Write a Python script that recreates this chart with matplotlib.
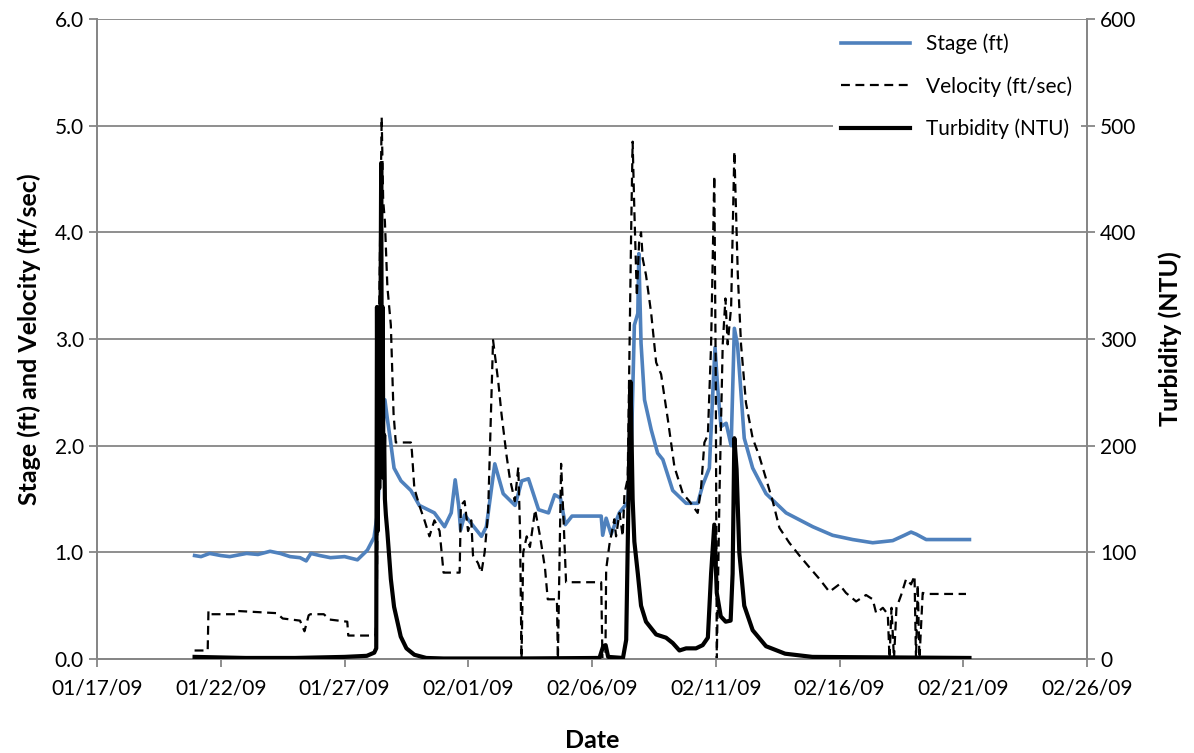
import datetime as dt
import numpy as np
import matplotlib.pyplot as plt
import matplotlib.dates as mdates
from matplotlib.lines import Line2D

plt.rcParams['font.family'] = ['Lato', 'DejaVu Sans']

START = dt.datetime(2009, 1, 17)

# stage (ft): days after 01/17/09, value
stage_day = [3.94, 4.2, 4.55, 5.0, 5.36, 6.04, 6.5, 6.99, 7.4, 7.80, 8.2, 8.45, 8.64, 9.0, 9.43,
             10.0, 10.52, 10.92, 11.19, 11.33, 11.46, 11.63, 11.73, 11.84, 12.0, 12.28, 12.68,
             13.02, 13.63, 14.04, 14.31, 14.47, 14.61, 14.69, 14.85, 15.53, 15.73, 16.07, 16.41,
             16.89, 17.16, 17.43, 17.84, 18.24, 18.49, 18.72, 18.92, 19.19, 19.49, 20.37, 20.43,
             20.57, 20.77, 21.1, 21.44, 21.58, 21.71, 21.85, 21.89, 21.98, 22.12, 22.39, 22.65,
             22.86, 23.26, 23.8, 24.27, 24.47, 24.74, 24.9, 24.97, 25.08, 25.21, 25.42, 25.62,
             25.75, 25.88, 26.15, 26.49, 27.03, 27.84, 28.92, 29.72, 30.53, 31.34, 32.15, 32.62,
             32.89, 33.1, 33.5, 35.25]
stage_ft = [0.97, 0.96, 0.99, 0.97, 0.96, 0.99, 0.98, 1.01, 0.99, 0.96, 0.95, 0.92, 0.99, 0.97, 0.95,
            0.96, 0.93, 1.02, 1.14, 1.37, 1.90, 2.43, 2.25, 2.07, 1.79, 1.67, 1.58,
            1.44, 1.37, 1.24, 1.37, 1.68, 1.44, 1.21, 1.35, 1.15, 1.24, 1.83, 1.55,
            1.44, 1.67, 1.69, 1.40, 1.37, 1.54, 1.51, 1.26, 1.34, 1.34, 1.34, 1.16,
            1.32, 1.17, 1.37, 1.47, 1.90, 3.13, 3.24, 3.80, 2.96, 2.43, 2.15, 1.93,
            1.87, 1.58, 1.46, 1.46, 1.63, 1.79, 2.60, 2.92, 2.53, 2.18, 2.21, 2.00,
            3.10, 2.94, 2.07, 1.79, 1.55, 1.37, 1.24, 1.16, 1.12, 1.09, 1.11, 1.16,
            1.19, 1.17, 1.12, 1.12]

# velocity (ft/sec)
vel_day = [3.94, 4.47, 4.50, 4.56, 5.65, 5.70, 6.45, 7.26, 7.50, 8.20, 8.38, 8.55, 8.62, 9.16, 9.40,
           10.11, 10.15, 11.25, 11.30, 11.40, 11.50, 11.56, 11.63, 11.73, 11.87, 11.98, 12.07,
           12.68, 12.72, 12.82, 13.02, 13.23, 13.43, 13.63, 13.84, 14.0, 14.65, 14.70, 14.85,
           14.99, 15.12, 15.19, 15.39, 15.53, 15.66, 15.80, 16.00, 16.21, 16.34, 16.55, 16.68,
           16.88, 17.02, 17.09, 17.15, 17.22, 17.36, 17.49, 17.70, 17.90, 18.10, 18.21, 18.58,
           18.62, 18.75, 18.85, 18.95, 20.37, 20.42, 20.54, 20.57, 20.70, 20.90, 20.97, 21.11,
           21.24, 21.31, 21.44, 21.58, 21.64, 21.71, 21.81, 21.90, 21.98, 22.05, 22.18, 22.39,
           22.59, 22.79, 23.06, 23.33, 23.67, 23.93, 24.27, 24.41, 24.54, 24.68, 24.81, 24.94,
           25.00, 25.04, 25.15, 25.28, 25.39, 25.48, 25.62, 25.75, 25.89, 26.02, 26.22, 26.49,
           26.76, 27.03, 27.30, 27.57, 27.97, 28.38, 28.78, 29.19, 29.59, 29.99, 30.26, 30.67,
           31.07, 31.34, 31.48, 31.75, 31.95, 32.02, 32.10, 32.20, 32.30, 32.49, 32.69, 32.89,
           33.03, 33.09, 33.16, 33.23, 33.36, 33.50, 35.11]
vel_fps = [0.08, 0.08, 0.45, 0.42, 0.42, 0.45, 0.44, 0.43, 0.38, 0.36, 0.26, 0.41, 0.42, 0.42, 0.37,
           0.35, 0.22, 0.22, 0.50, 3.30, 5.08, 4.30, 4.10, 3.49, 3.13, 2.30, 2.03,
           2.03, 1.95, 1.60, 1.44, 1.30, 1.15, 1.30, 1.20, 0.81, 0.81, 1.44, 1.48,
           1.20, 1.30, 0.97, 0.90, 0.81, 1.00, 1.37, 2.99, 2.60, 2.30, 1.90, 1.69,
           1.48, 1.80, 1.20, 0.00, 1.00, 1.15, 1.05, 1.40, 1.15, 0.85, 0.56, 0.56,
           0.00, 1.83, 1.30, 0.72, 0.72, 0.00, 0.00, 0.84, 1.07, 1.31, 1.15, 1.37,
           1.15, 1.55, 1.69, 4.01, 4.85, 4.20, 3.40, 3.90, 4.00, 3.75, 3.60, 3.24,
           2.78, 2.67, 2.25, 1.80, 1.55, 1.48, 1.37, 1.62, 2.03, 2.10, 2.95, 4.53,
           2.60, 0.00, 1.55, 2.95, 3.38, 2.95, 3.30, 4.76, 3.60, 2.95, 2.40, 2.07,
           1.90, 1.69, 1.48, 1.23, 1.09, 0.97, 0.86, 0.75, 0.63, 0.70, 0.62, 0.54,
           0.60, 0.56, 0.43, 0.48, 0.42, 0.00, 0.48, 0.00, 0.48, 0.60, 0.75, 0.70,
           0.78, 0.00, 0.70, 0.00, 0.62, 0.61, 0.61]

# turbidity (NTU), right axis
turb_day = [3.94, 6.0, 8.0, 10.0, 10.9, 11.20, 11.28, 11.31, 11.34, 11.37, 11.40, 11.44, 11.48,
            11.51, 11.54, 11.57, 11.60, 11.63, 11.67, 11.73, 11.87, 12.0, 12.27, 12.5, 12.82,
            13.3, 14.0, 17.0, 20.3, 20.45, 20.55, 20.65, 21.25, 21.38, 21.50, 21.55, 21.58,
            21.64, 21.71, 21.85, 21.98, 22.18, 22.59, 22.99, 23.26, 23.53, 23.8, 24.2, 24.47,
            24.68, 24.81, 24.94, 25.04, 25.2, 25.4, 25.6, 25.68, 25.75, 25.84, 25.95, 26.15,
            26.49, 27.03, 27.8, 28.9, 35.25]
turb_ntu = [2, 1, 1, 2, 3, 6, 10, 330, 120, 310, 160, 250, 465,
            200, 330, 170, 210, 150, 135, 119, 75, 49, 21, 10, 4,
            1, 0.5, 0.5, 1, 12, 13, 2, 1, 18, 190, 260, 230,
            150, 110, 80, 50, 35, 23, 20, 15, 8, 10, 10, 13,
            20, 80, 126, 62, 40, 35, 36, 80, 207, 178, 100, 50,
            27, 12, 5, 2, 1]

xticks = [START + dt.timedelta(days=5 * i) for i in range(9)]


def to_dates(days):
    return [START + dt.timedelta(days=d) for d in days]


fig = plt.figure(figsize=(11.94, 7.53), dpi=100)
ax = fig.add_axes([0.0813, 0.1248, 0.8291, 0.85])
ax2 = ax.twinx()

grey = '#868686'
ax.plot(to_dates(stage_day), stage_ft, color='#4F81BD', lw=2.6, zorder=3)
ax.plot(to_dates(vel_day), vel_fps, color='black', lw=1.6, ls=(0, (4, 2.5)), zorder=4)
ax2.plot(to_dates(turb_day), turb_ntu, color='black', lw=3.0, zorder=5)

ax.set_xlim(xticks[0], xticks[-1])
ax.set_ylim(0, 6)
ax2.set_ylim(0, 600)
ax.set_xticks(xticks)
ax.xaxis.set_major_formatter(mdates.DateFormatter('%m/%d/%y'))
ax.set_yticks(np.arange(0, 6.1, 1.0))
ax.set_yticklabels([f'{v:.1f}' for v in np.arange(0, 6.1, 1.0)])
ax2.set_yticks(range(0, 601, 100))

ax.grid(axis='y', color=grey, lw=1.3)
ax.set_axisbelow(True)
for a in (ax, ax2):
    a.spines['top'].set_visible(False)
    for s in ('left', 'right', 'bottom'):
        a.spines[s].set_color(grey)
        a.spines[s].set_linewidth(1.3)
    a.tick_params(colors=grey, labelcolor='black', labelsize=15, length=6, width=1.3)
ax.tick_params(axis='x', pad=8)

ax.set_xlabel('Date', fontsize=18, fontweight='bold', labelpad=22)
ax.set_ylabel('Stage (ft) and Velocity (ft/sec)', fontsize=18, fontweight='bold', labelpad=10)
ax2.set_ylabel('Turbidity (NTU)', fontsize=18, fontweight='bold', labelpad=16)

handles = [Line2D([], [], color='#4F81BD', lw=2.6),
           Line2D([], [], color='black', lw=1.6, ls=(0, (4, 2.5))),
           Line2D([], [], color='black', lw=3.0)]
leg = ax2.legend(handles, ['Stage (ft)', 'Velocity (ft/sec)', 'Turbidity (NTU)'],
                 loc='upper right', bbox_to_anchor=(1.0, 1.0), frameon=True, fontsize=15,
                 handlelength=3.3, labelspacing=1.05, borderaxespad=0.3)
leg.get_frame().set_edgecolor('none')
leg.get_frame().set_facecolor('white')
leg.get_frame().set_alpha(1)

fig.savefig('out.png', dpi=100)
